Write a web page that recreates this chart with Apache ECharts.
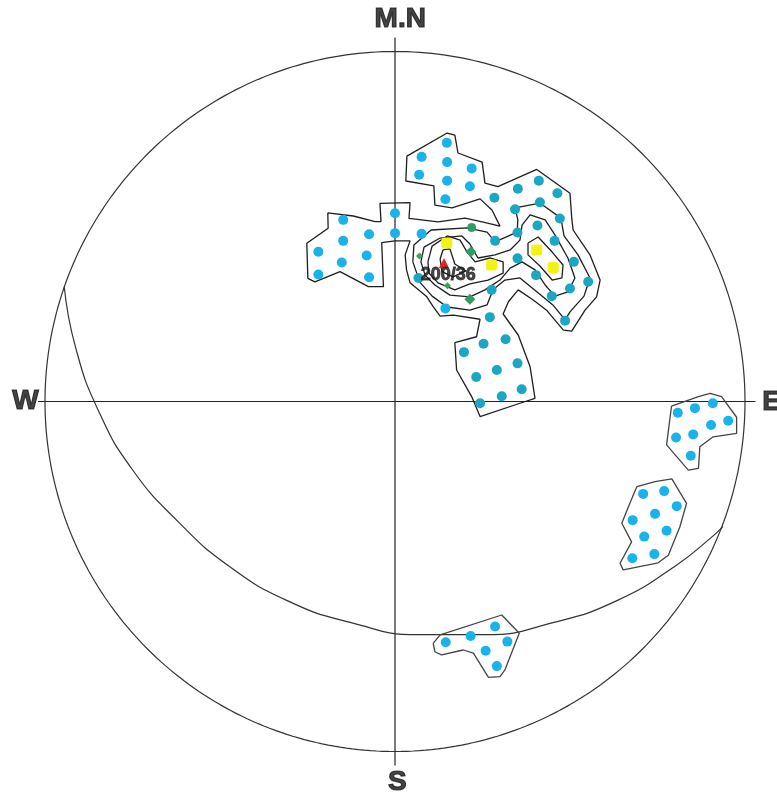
<!DOCTYPE html>
<html>
<head>
<meta charset="utf-8">
<script src="https://cdn.jsdelivr.net/npm/echarts@6/dist/echarts.min.js"></script>
<style>
html,body{margin:0;padding:0;background:#fff;}
#chart{width:777px;height:798px;}
</style>
</head>
<body>
<div id="chart"></div>
<script>
// Stereonet coordinates: centre (0,0), primitive radius 100, x = east, y = north
const primitiveRadius = 100;

const blueDots = [
  [-14.8,51.9],[0,53.8],[-7.4,47.8],[0,48.1],[-14.8,45.9],[-21.9,42.8],[-8.1,41.7],[-15.2,39.7],[-21.9,36.3],[-7.4,35.5],[7.6,47.9],
  [14.8,73.9],[7.6,69.9],[14.9,68.4],[21.9,66.6],[6.9,64.8],[14.9,63.1],[21.4,61.5],[14.4,57.8],
  [14.4,26.6],
  [80.8,-3.2],[85.7,-1.9],[90.8,-0.5],[95.2,-5.5],[90.3,-6.7],[85.2,-9.4],[80.3,-10.3],[84.5,-15.5],
  [70.9,-26.4],[76.9,-25.6],[80.5,-29.9],[74.3,-32.1],[67.9,-33.9],[77.6,-36.9],[71.2,-38.6],[74.1,-43.6],[67.8,-44.8],
  [14.5,-68.8],[21.6,-67],[28.6,-64.3],[32.1,-68.6],[25.9,-71.2],[29.1,-75.6]
];
const tealDots = [
  [28.4,58.2],[35.1,60.8],[41.1,63.1],[46.4,59.5],[41.4,56.9],[34.3,54.9],[47.1,52.3],[40.7,50.3],[35,48.3],[28.6,45.9],
  [45.6,45.9],[35,40.9],[51.1,39.9],[40.3,36.1],[55.2,34.2],[50,32.3],[44.8,30.1],[48.6,23.1],[27.6,31.9],[27.1,24.1],[6.7,35.3],
  [19.7,14.1],[25.3,16.5],[31.6,17.8],[23.2,7],[29.1,9],[35,10.9],[24.3,-0.5],[30.5,1.5],[36.2,3.5]
];
const greenDots = [[21.9,49.7]];
const greenDiamonds = [[21.7,42.8],[21.4,29.2]];
const greenSmall = [[7,41.6],[15,33.1]];
const yellowDots = [[14.8,45.3],[27.6,39],[40.5,43.3],[45.2,38.3]];
const maxPole = [[14,39.6]];
const maxPoleLabel = '200/36';
const maxPoleLabelAt = [15.2,36.1];

const outerContour = [
  [-19.2,53.9],[-11.9,53],[-5.7,51.4],[-4,51.4],[-4.3,56.6],[4.3,56.8],[4,52.3],[12.3,51.3],[20,52.4],[24.9,51.3],
  [30,50.1],[27.7,54.7],[24.3,57.9],[16.3,55.3],[11.4,56.1],[11.1,61.6],[3.1,63],[3.4,70.1],[14.9,76.7],[17.1,76.1],
  [18,71],[24.9,68.4],[25.7,62.4],[29.4,61.4],[40.5,66.3],[50,59.5],[50.5,52.3],[50.9,49],[55.7,41.9],[58.6,34.7],
  [57.6,29.9],[54.3,26.1],[51.9,22.3],[50.5,20.1],[48.1,20.4],[43.3,26.1],[39.5,29],[35.2,31.9],[32.4,28.5],[30.9,25],
  [35.2,19],[38.6,9.9],[40,0.9],[35.7,-0.5],[24.3,-4.3],[21.9,1.4],[17.6,9],[17.1,16.8],[23.3,18.5],[24.3,23.5],
  [16.7,24.7],[12.9,24.4],[10.9,27.1],[9.1,29.9],[4.3,33.9],[3.3,37.6],[2.9,41.9],[4.3,45.9],[0,45.9],[-3.8,45.4],
  [-3.3,32.8],[-7.6,32.8],[-15.7,37.1],[-22.9,34.2],[-24.9,35.2],[-25.2,45.2],[-19.1,49.5]
];
const contour2 = [
  [5.1,39.9],[5.4,44.7],[10.3,49],[20.6,49.6],[26.3,48.4],[28.6,45.6],[34.9,48.4],[35.1,51.9],[34.3,55.3],[41.4,56.7],
  [47.4,52.4],[48.3,47.3],[52.3,41.9],[55.7,35.3],[54,30.1],[50,25.6],[48.6,23.3],[45.1,27.6],[40.6,31.3],[35.7,35.3],
  [31.4,34.7],[28,31.9],[26.3,27.6],[21.4,26.1],[14.9,27],[10.6,30.1],[7.1,34.1]
];
const contour3 = [
  [7.4,39.9],[8.3,44.1],[12.9,46.7],[19.1,47.3],[21.4,45],[23.7,41],[28.6,41.9],[32.9,43.3],[35.7,46.1],[36.3,50.4],
  [38.6,53.3],[42.9,51.9],[45.7,47.6],[49.4,41],[51.4,35.3],[49.4,31.3],[45.7,30.1],[42.9,33.3],[40,37.6],[36.3,39.9],
  [32.9,38.1],[30,34.7],[25.7,31.9],[21.4,29.9],[15.7,30.4],[11.4,33.3],[8.6,36.1]
];
const contour4 = [
  [9.4,39.9],[10.6,44.4],[14.9,47.3],[18.6,46.1],[20.6,42.7],[22.9,39.9],[27.1,41],[30.9,39.9],[30.9,36.7],[26.6,34.7],
  [21.4,33.6],[17.1,31.9],[12.3,33.9],[9.7,36.7]
];
const contour5 = [[13.7,43.3],[15.7,43.6],[17.1,39.3],[20.3,37.3],[16.6,35.6],[13.4,37.1],[12.9,40.7]];
const rightLobeContour = [[38,45.3],[40.9,47],[44.9,42.7],[48,39],[47.7,35.3],[44.9,34.7],[41.4,38.7],[38,41.9]];
const eastContour1 = [[79,-1.3],[86.7,1.4],[90,2.3],[93.3,1.4],[97.6,-4.5],[97.6,-9.1],[90.9,-10.1],[87.1,-12.9],[86.7,-19.1],[83.8,-19.6],[77.6,-12.4]];
const eastContour2 = [[69.1,-24.3],[74.3,-22.9],[79.1,-22.1],[83.3,-29.1],[81.4,-35.8],[78.1,-43.9],[75.2,-46.1],[65.2,-48.1],[64.3,-46.2],[67.6,-40.1],[64.8,-34.8],[66.7,-30.1]];
const southContour = [[10.9,-69.1],[12.9,-66.7],[30.5,-61],[35.5,-66.2],[31.4,-76.7],[30,-78.6],[26.7,-78.8],[22.4,-71.9],[19.5,-71],[13.3,-72.4],[11.4,-71.5]];

const greatCircle = [
  [-94.5,32.8],[-91.3,15.6],[-84.7,-2.7],[-75,-19.5],[-61.9,-34.4],[-47.6,-46.9],[-30.8,-56.9],[-12.5,-63.2],
  [6.6,-66.6],[26,-66.6],[45.1,-63.2],[63.4,-56.9],[80.2,-46.9],[90.9,-38.4],[93.7,-35.7]
];
const northSouthLine = [[0,104],[0,-104]];
const eastWestLine = [[-102,0],[103,0]];
const compassLabels = [
  {name:'M.N', value:[1.5,109.1]},
  {name:'W', value:[-105.6,0.2]},
  {name:'E', value:[107.6,-0.1]},
  {name:'S', value:[0.7,-108.9]}
];

const closeRing = pts => pts.concat([pts[0]]);
const primitive = [];
for (let a = 0; a <= 360; a += 1) {
  const r = a * Math.PI / 180;
  primitive.push([primitiveRadius * Math.cos(r), primitiveRadius * Math.sin(r)]);
}

function lineSeries(data, color, width, smooth) {
  return {type:'line', data:data, symbol:'none', showSymbol:false, smooth:smooth || false, silent:true,
    lineStyle:{color:color, width:width}, z:2, animation:false};
}
function dotSeries(data, color, symbol, size) {
  return {type:'scatter', data:data, symbol:symbol, symbolSize:size, silent:true,
    itemStyle:{color:color, opacity:1}, z:5, animation:false};
}

const chart = echarts.init(document.getElementById('chart'));
chart.setOption({
  backgroundColor:'#ffffff',
  animation:false,
  grid:{left:0, right:0, top:0, bottom:0},
  xAxis:{type:'value', min:-112.857, max:109.143, show:false},
  yAxis:{type:'value', min:-113.286, max:114.714, show:false},
  series:[
    lineSeries(primitive, '#333', 1.2),
    lineSeries(northSouthLine, '#222', 1.2),
    lineSeries(eastWestLine, '#222', 1.2),
    lineSeries(greatCircle, '#333', 1.2, 0.5),
    lineSeries(closeRing(outerContour), '#1e1e1e', 1.3),
    lineSeries(closeRing(contour2), '#1e1e1e', 1.3),
    lineSeries(closeRing(contour3), '#1e1e1e', 1.3),
    lineSeries(closeRing(contour4), '#1e1e1e', 1.3),
    lineSeries(closeRing(contour5), '#1e1e1e', 1.3),
    lineSeries(closeRing(rightLobeContour), '#1e1e1e', 1.3),
    lineSeries(closeRing(eastContour1), '#444', 1.3),
    lineSeries(closeRing(eastContour2), '#444', 1.3),
    lineSeries(closeRing(southContour), '#444', 1.3),
    dotSeries(blueDots, '#19b3ec', 'circle', 10),
    dotSeries(tealDots, '#1aa7c4', 'circle', 10),
    dotSeries(greenDots, '#2f9e63', 'circle', 9),
    dotSeries(greenDiamonds, '#2f9e63', 'diamond', 11),
    dotSeries(greenSmall, '#3c9f5c', 'diamond', 7),
    dotSeries(yellowDots, '#f2f214', 'roundRect', 11),
    dotSeries(maxPole, '#e3231c', 'triangle', 10),
    {type:'scatter', data:[{name:maxPoleLabel, value:maxPoleLabelAt}], symbolSize:0, silent:true, z:8, animation:false,
      label:{show:true, position:'inside', formatter:'{b}', fontFamily:'Liberation Sans, Arial, sans-serif',
        fontSize:18, fontWeight:'bold', color:'#1a1a1a', textBorderColor:'#1a1a1a', textBorderWidth:0.8}},
    {type:'scatter', data:compassLabels, symbolSize:0, silent:true, z:8, animation:false,
      label:{show:true, position:'inside', formatter:'{b}', fontFamily:'Liberation Sans, Arial, sans-serif',
        fontSize:28, fontWeight:'bold', color:'#161616', textBorderColor:'#161616', textBorderWidth:1.2}}
  ]
});
</script>
</body>
</html>
